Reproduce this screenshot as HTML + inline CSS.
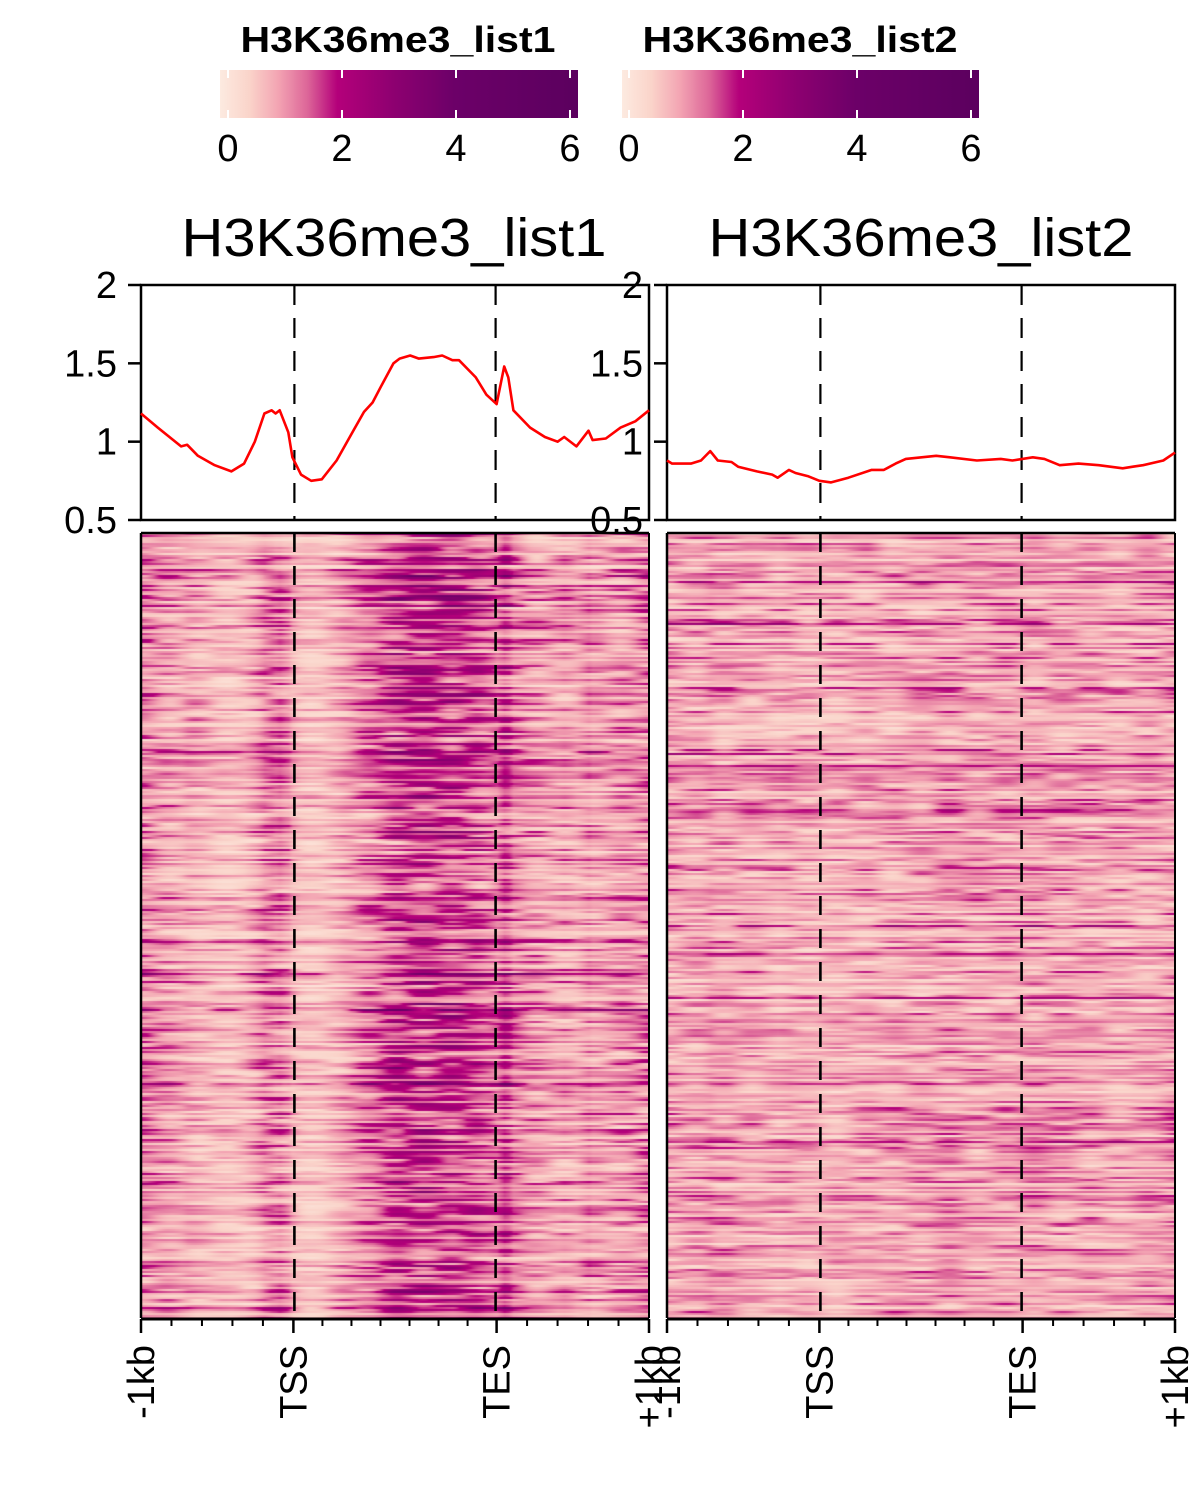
<!DOCTYPE html>
<html><head><meta charset="utf-8">
<style>
html,body{margin:0;padding:0;background:#fff;}
#wrap{position:relative;width:1200px;height:1500px;overflow:hidden;font-family:"Liberation Sans",Arial,sans-serif;}
canvas{position:absolute;}
svg{position:absolute;left:0;top:0;}
</style></head>
<body>
<div id="wrap">
<canvas id="hm1" width="508" height="785" style="left:141px;top:533px"></canvas>
<canvas id="hm2" width="508" height="785" style="left:667px;top:533px"></canvas>
<svg id="svg" width="1200" height="1500" xmlns="http://www.w3.org/2000/svg"></svg>
</div>
<script>
// ---- data ----
const bins1 = [0,3.3,7.9,9.1,11.2,14.5,17.8,20.3,22.4,24.3,25.7,26.5,27.3,29.0,29.8,31.5,33.5,35.6,38.5,41.8,43.9,45.6,47.2,49.7,50.9,53.0,54.7,57.6,59.3,61.3,62.6,65.9,68.0,70.0,71.5,72.3,73.3,76.6,79.5,82.0,83.3,85.7,88.1,88.9,91.5,94.4,97.3,100];
const vals1 = [1.18,1.09,0.97,0.98,0.91,0.85,0.81,0.86,1.0,1.18,1.20,1.18,1.20,1.06,0.90,0.79,0.75,0.76,0.88,1.07,1.19,1.25,1.35,1.50,1.53,1.55,1.53,1.54,1.55,1.52,1.52,1.41,1.30,1.24,1.48,1.41,1.20,1.09,1.03,1.00,1.03,0.97,1.07,1.01,1.02,1.09,1.13,1.20];
const bins2 = [0,1,4.7,6.7,8.5,10,12.7,14,17.7,20.7,21.8,24,25.3,27.7,30,32.3,35.7,40.3,42.7,45,47,53,55.7,61,65.7,68,72,74.3,77.3,81,85,89.7,91.7,93.7,97.7,100];
const vals2 = [0.88,0.86,0.86,0.88,0.94,0.88,0.87,0.84,0.81,0.79,0.77,0.82,0.80,0.78,0.75,0.74,0.77,0.82,0.82,0.86,0.89,0.91,0.90,0.88,0.89,0.88,0.90,0.89,0.85,0.86,0.85,0.83,0.84,0.85,0.88,0.93];
const yTicks = [0.5,1,1.5,2];
const yTickLabels = ["0.5","1","1.5","2"];
const xTickBins = [0,30,70,100];
const xTickLabels = ["-1kb","TSS","TES","+1kb"];
const legendTicks = [0,2,4,6];
const titles = ["H3K36me3_list1","H3K36me3_list2"];

// ---- layout ----
const panels = [{x0:141,x1:649},{x0:667,x1:1175}];
const profTop=285, profBot=520, hmTop=533, hmBot=1318;
const yMin=0.5,yMax=2;
function xScale(p,b){return p.x0+(p.x1-p.x0)*b/100;}
function yScale(v){return profBot-(v-yMin)/(yMax-yMin)*(profBot-profTop);}

const NS="http://www.w3.org/2000/svg";
const svg=document.getElementById('svg');
function el(tag,attrs,parent){const e=document.createElementNS(NS,tag);for(const k in attrs)e.setAttribute(k,attrs[k]);(parent||svg).appendChild(e);return e;}

// colormap
const stops=[[0,[253,234,224]],[0.5,[250,212,202]],[1,[243,163,178]],[1.5,[220,100,152]],[2,[180,0,122]],[3,[140,0,112]],[4,[108,0,104]],[6,[92,0,95]]];
function cmap(v){if(v<=0)return stops[0][1];for(let i=1;i<stops.length;i++){if(v<=stops[i][0]){const a=stops[i-1],b=stops[i];const t=(v-a[0])/(b[0]-a[0]);return a[1].map((c,j)=>Math.round(c+(b[1][j]-c)*t));}}return stops[stops.length-1][1];}
function interp(bins,vals,b){for(let i=1;i<bins.length;i++){if(b<=bins[i]){const t=(b-bins[i-1])/(bins[i]-bins[i-1]||1);return vals[i-1]+(vals[i]-vals[i-1])*t;}}return vals[vals.length-1];}

// seeded texture generator
function mulberry(a){return function(){a|=0;a=a+0x6D2B79F5|0;let t=Math.imul(a^a>>>15,1|a);t=t+Math.imul(t^t>>>7,61|t)^t;return((t^t>>>14)>>>0)/4294967296;};}
function drawHeat(id,bins,vals,seed,gain,mult){
  const c=document.getElementById(id),ctx=c.getContext('2d');
  const W=c.width,H=c.height,img=ctx.createImageData(W,H);
  const rnd=mulberry(seed);
  const K=18;let prev=null;
  for(let y=0;y<H;y+=2){
    const rowF=0.6+0.8*rnd();
    let knots=[];for(let k=0;k<=K;k++)knots.push(0.4+1.25*rnd());
    if(prev && rnd()<0.5){knots=knots.map((v,i)=>0.5*v+0.5*prev[i]);}
    prev=knots;
    const dark=rnd()<0.07?1.6:1;
    for(let x=0;x<W;x++){
      const b=x/W*100;
      const kp=x/W*K,ki=Math.floor(kp),kt=kp-ki;
      const ct=(1-Math.cos(kt*Math.PI))/2;
      const n=knots[ki]*(1-ct)+knots[Math.min(K,ki+1)]*ct;
      const base=interp(bins,vals,b);
      const v=Math.pow(base,gain)*rowF*n*dark*mult;
      const col=cmap(v);
      for(let dy=0;dy<2&&y+dy<H;dy++){const o=((y+dy)*W+x)*4;img.data[o]=col[0];img.data[o+1]=col[1];img.data[o+2]=col[2];img.data[o+3]=255;}
    }
  }
  ctx.putImageData(img,0,0);
}
drawHeat('hm1',bins1,vals1,12345,1.4,0.92);
drawHeat('hm2',bins2,vals2,67890,1.0,1.1);

// ---- legends ----
const legends=[{x0:220,x1:578,z:228,s:57,cx:398},{x0:622,x1:979,z:629,s:57,cx:800}];
const defs=el('defs',{});
const lg=el('linearGradient',{id:'lgrad',x1:'0',x2:'1',y1:'0',y2:'0'},defs);
for(let v=0;v<=6.1;v+=0.1){const c=cmap(v);el('stop',{offset:(v/6.1).toFixed(3),'stop-color':`rgb(${c[0]},${c[1]},${c[2]})`},lg);}
legends.forEach((L,i)=>{
  const g=el('g',{});
  
  
  const t=el('text',{x:L.cx,y:52,'text-anchor':'middle','font-size':'36','font-weight':'bold','font-family':'Liberation Sans, sans-serif',textLength:315,lengthAdjust:'spacingAndGlyphs'},g);
  t.textContent=titles[i];
  
  
  const r=el('rect',{x:L.x0,y:70,width:L.x1-L.x0,height:48,fill:'url(#lgrad)'},g);
  
  
  legendTicks.forEach((v,j)=>{
    const x=L.z+v*L.s;
    el('line',{x1:x,x2:x,y1:70,y2:78,stroke:'#fff','stroke-width':2},g);
    el('line',{x1:x,x2:x,y1:110,y2:118,stroke:'#fff','stroke-width':2},g);
    const tl=el('text',{x:x,y:161,'text-anchor':'middle','font-size':'38','font-family':'Liberation Sans, sans-serif'},g);
    tl.textContent=String(v);
    
    
  });
});

// ---- panels ----
const series=[[bins1,vals1],[bins2,vals2]];
const titleCx=[394,921];
panels.forEach((p,i)=>{
  const g=el('g',{});
  
  
  const tt=el('text',{x:titleCx[i],y:256,'text-anchor':'middle','font-size':'54','font-family':'Liberation Sans, sans-serif',textLength:425,lengthAdjust:'spacingAndGlyphs'},g);
  tt.textContent=titles[i];
  
  
  // profile box
  const box=el('rect',{x:p.x0,y:profTop,width:p.x1-p.x0,height:profBot-profTop,fill:'none',stroke:'#000','stroke-width':2.5},g);
  
  
  yTicks.forEach((v,j)=>{
    const y=yScale(v);
    el('line',{x1:p.x0-13,x2:p.x0,y1:y,y2:y,stroke:'#000','stroke-width':2.5},g);
    const yl=el('text',{x:p.x0-24,y:y+13,'text-anchor':'end','font-size':'38','font-family':'Liberation Sans, sans-serif'},g);
    yl.textContent=yTickLabels[j];
    
    
  });
  // dashed lines
  [30,70].forEach(b=>{
    const x=xScale(p,b)+(b===30?1:-1);
    el('line',{x1:x,x2:x,y1:profTop,y2:profBot,stroke:'#000','stroke-width':2.2,'stroke-dasharray':'20 13'},g);
    el('line',{x1:x,x2:x,y1:hmTop,y2:hmBot,stroke:'#000','stroke-width':2.6,'stroke-dasharray':'19 14'},g);
  });
  // profile line
  const [bs,vs]=series[i];
  const pts=bs.map((b,k)=>xScale(p,b).toFixed(1)+','+yScale(vs[k]).toFixed(1)).join(' ');
  const pl=el('polyline',{points:pts,fill:'none',stroke:'#ff0000','stroke-width':2.6,'stroke-linejoin':'round'},g);
  
  
  // heatmap frame
  el('line',{x1:p.x0,x2:p.x1,y1:hmTop,y2:hmTop,stroke:'#000','stroke-width':2.5},g);
  el('line',{x1:p.x0,x2:p.x0,y1:hmTop,y2:hmBot,stroke:'#000','stroke-width':2.5},g);
  el('line',{x1:p.x1,x2:p.x1,y1:hmTop,y2:hmBot,stroke:'#000','stroke-width':2},g);
  // x axis
  el('line',{x1:p.x0,x2:p.x1,y1:1319,y2:1319,stroke:'#000','stroke-width':3},g);
  const minor=[];
  for(let k=1;k<5;k++)minor.push(30*k/5);
  for(let k=1;k<7;k++)minor.push(30+40*k/7);
  for(let k=1;k<5;k++)minor.push(70+30*k/5);
  minor.forEach(b=>{const x=xScale(p,b);el('line',{x1:x,x2:x,y1:1319,y2:1326,stroke:'#000','stroke-width':2},g);});
  xTickBins.forEach((b,j)=>{
    const x=xScale(p,b);
    el('line',{x1:x,x2:x,y1:1319,y2:1333,stroke:'#000','stroke-width':2.5},g);
    const xl=el('text',{x:0,y:0,'text-anchor':'end','font-size':'38','font-family':'Liberation Sans, sans-serif',transform:`translate(${x+13},1345) rotate(-90)`},g);
    xl.textContent=xTickLabels[j];
    
    
  });
});
</script>
</body></html>
